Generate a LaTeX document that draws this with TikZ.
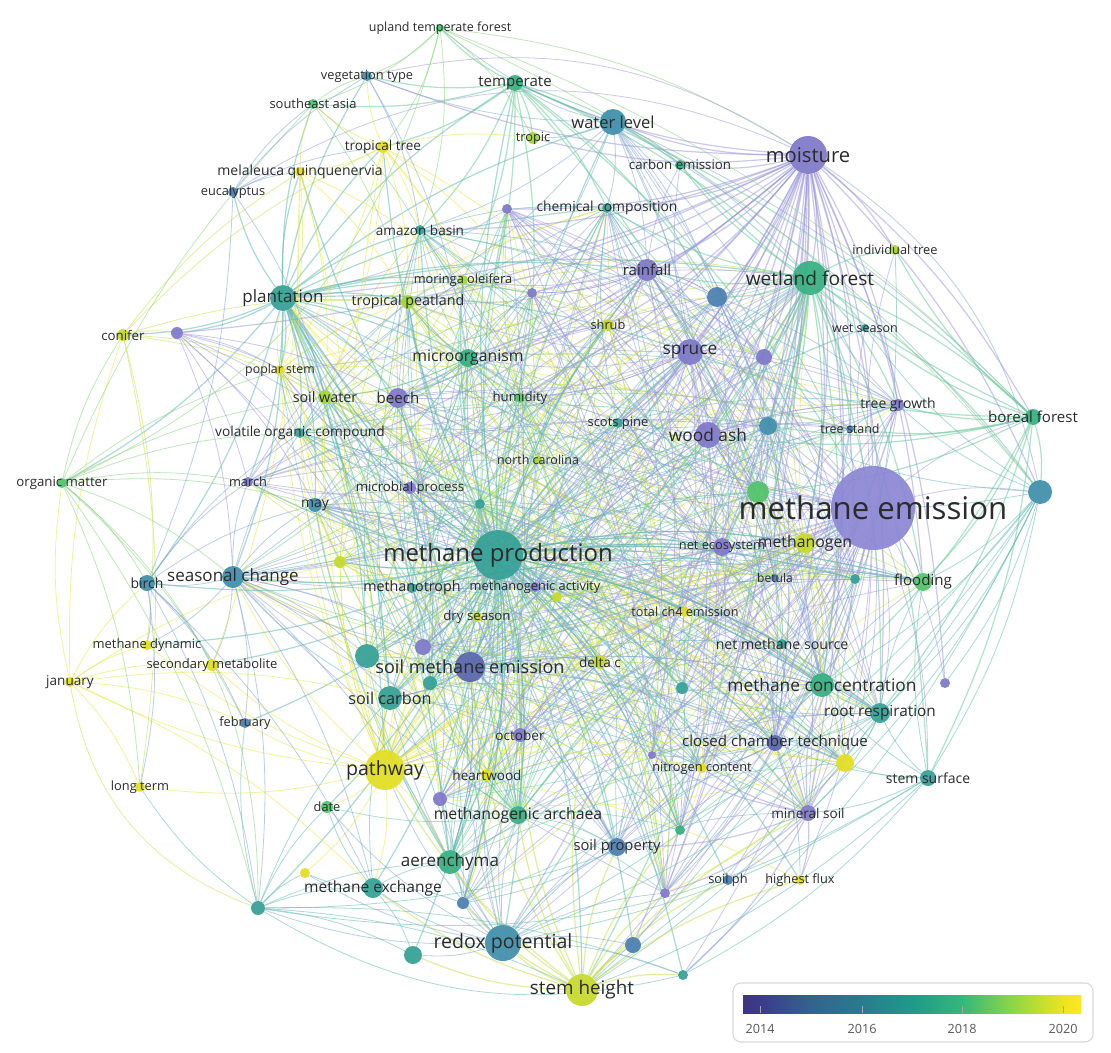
\documentclass[tikz,border=0pt]{standalone}
\usepackage{fontspec}
\setmainfont{Open Sans}
\pgfdeclarelayer{bg}
\pgfsetlayers{bg,main}
\definecolor{P}{HTML}{7F78C9}
\definecolor{PL}{HTML}{8C87D4}
\definecolor{PB}{HTML}{5A66AD}
\definecolor{B}{HTML}{4B7FB0}
\definecolor{BT}{HTML}{3F8FAB}
\definecolor{T}{HTML}{34A095}
\definecolor{TG}{HTML}{36B081}
\definecolor{G}{HTML}{52C36A}
\definecolor{LG}{HTML}{A3D53C}
\definecolor{YG}{HTML}{C6DA2A}
\definecolor{Y}{HTML}{E3DE22}
\definecolor{eP}{HTML}{9C95DD}
\definecolor{eB}{HTML}{7FA3D3}
\definecolor{eT}{HTML}{5FB8B0}
\definecolor{eTG}{HTML}{68C89A}
\definecolor{eG}{HTML}{86D27C}
\definecolor{eY}{HTML}{E6E640}
\definecolor{eYG}{HTML}{C4DF4A}
\definecolor{labc}{HTML}{2B2B2B}
\definecolor{v0}{HTML}{3E3580}
\definecolor{v1}{HTML}{3B3B8C}
\definecolor{v2}{HTML}{33638D}
\definecolor{v3}{HTML}{2A7B8E}
\definecolor{v4}{HTML}{1F9A8A}
\definecolor{v5}{HTML}{36B77A}
\definecolor{v6}{HTML}{8FD744}
\definecolor{v7}{HTML}{EEE51E}
\definecolor{v8}{HTML}{FDE725}
\pgfdeclarehorizontalshading{viridis}{100bp}{color(0bp)=(v0); color(25bp)=(v0); color(27.5bp)=(v1); color(35bp)=(v2); color(42.5bp)=(v3); color(50bp)=(v4); color(57.5bp)=(v5); color(65bp)=(v6); color(72.5bp)=(v7); color(75bp)=(v8); color(100bp)=(v8)}
\tikzset{
  dot/.style={circle, inner sep=0pt, draw=none, fill opacity=0.93},
  lab/.style={inner sep=0pt, text=labc},
  ed/.style={line width=0.6pt, draw opacity=0.52},
  edh/.style={line width=0.9pt, draw opacity=0.52},
}
\newcommand{\mknode}[7]{\node[dot,fill=#5,minimum size=#4*1.5pt] (#1) at (#2,#3) {};}
\newcommand{\mklab}[7]{\node[lab,font=\fontsize{\fpeval{#7*1.13}pt}{\fpeval{#7*1.13}pt}\selectfont] (l-#1) at (#2,#3) {#6};}
\newcommand{\allnodes}[1]{%
#1{me}{873}{508}{42}{PL}{methane emission}{20.7}%
#1{mp}{498}{555}{25}{T}{methane production}{15.9}%
#1{mo}{808}{155}{19}{P}{moisture}{13.4}%
#1{wf}{810}{278}{17}{TG}{wetland forest}{12.7}%
#1{wl}{613}{122}{13}{BT}{water level}{11}%
#1{pl}{283}{298}{13}{T}{plantation}{11.3}%
#1{pw}{385}{770}{20}{Y}{pathway}{13}%
#1{rp}{503}{943}{18}{BT}{redox potential}{13}%
#1{sh}{582}{990}{16}{YG}{stem height}{12.5}%
#1{sme}{470}{667}{15}{PB}{soil methane emission}{12}%
#1{mc}{822}{685}{12}{TG}{methane concentration}{11.5}%
#1{sc}{233}{577}{11}{BT}{seasonal change}{11.3}%
#1{sp}{690}{352}{13}{P}{spruce}{11.5}%
#1{wa}{708}{435}{13}{P}{wood ash}{11.5}%
#1{ae}{450}{862}{12}{TG}{aerenchyma}{11.3}%
#1{scb}{390}{698}{12}{T}{soil carbon}{10.8}%
#1{mic}{468}{358}{9}{TG}{microorganism}{10.5}%
#1{ma}{518}{815}{9}{TG}{methanogenic archaea}{10.5}%
#1{mex}{373}{888}{10}{T}{methane exchange}{10.3}%
#1{rr}{880}{713}{10}{T}{root respiration}{10.2}%
#1{rf}{647}{270}{11}{P}{rainfall}{10}%
#1{bf}{1033}{417}{8}{TG}{boreal forest}{10}%
#1{tp}{408}{302}{7}{LG}{tropical peatland}{9.5}%
#1{spp}{617}{847}{9}{B}{soil property}{9.8}%
#1{cct}{775}{743}{8}{PB}{closed chamber technique}{10}%
#1{fl}{923}{582}{9}{G}{flooding}{10}%
#1{be}{398}{398}{10}{P}{beech}{10}%
#1{te}{515}{83}{8}{TG}{temperate}{10}%
#1{mn}{805}{543}{10}{YG}{methanogen}{10.5}%
#1{ne}{722}{547}{9}{P}{net ecosystem}{8.5}%
#1{ms}{808}{813}{8}{P}{mineral soil}{9}%
#1{ss}{928}{778}{8}{T}{stem surface}{9.3}%
#1{oc}{520}{735}{7}{P}{october}{9}%
#1{hw}{487}{775}{6}{Y}{heartwood}{9}%
#1{ut}{440}{28}{4}{G}{upland temperate forest}{8.3}%
#1{vt}{367}{76}{5}{BT}{vegetation type}{8.5}%
#1{sea}{313}{104}{5}{G}{southeast asia}{8.6}%
#1{tt}{383}{147}{6}{Y}{tropical tree}{9}%
#1{mq}{300}{172}{5}{Y}{melaleuca quinquenervia}{9.3}%
#1{eu}{233}{192}{5}{B}{eucalyptus}{8.5}%
#1{tr}{533}{138}{6}{LG}{tropic}{8.5}%
#1{ce}{680}{165}{5}{TG}{carbon emission}{8.8}%
#1{chc}{607}{208}{5}{T}{chemical composition}{9.2}%
#1{ab}{420}{230}{5}{T}{amazon basin}{9}%
#1{mol}{463}{280}{5}{LG}{moringa oleifera}{8.5}%
#1{shr}{608}{325}{6}{YG}{shrub}{8.5}%
#1{it}{895}{250}{5}{LG}{individual tree}{8.5}%
#1{ws}{865}{328}{4}{T}{wet season}{8.3}%
#1{co}{123}{335}{6}{YG}{conifer}{8.8}%
#1{ps}{280}{370}{5}{Y}{poplar stem}{8.2}%
#1{sw}{325}{397}{7}{LG}{soil water}{9.5}%
#1{voc}{300}{433}{5}{T}{volatile organic compound}{9.1}%
#1{hu}{520}{398}{5}{G}{humidity}{8.8}%
#1{spn}{618}{423}{5}{T}{scots pine}{8.6}%
#1{nc}{538}{460}{4}{LG}{north carolina}{8.3}%
#1{om}{62}{483}{5}{G}{organic matter}{8.8}%
#1{mar}{248}{482}{5}{P}{march}{8.5}%
#1{may}{315}{505}{7}{BT}{may}{9.3}%
#1{mip}{410}{488}{6}{P}{microbial process}{8.8}%
#1{tg}{898}{405}{6}{P}{tree growth}{9.3}%
#1{ts}{850}{429}{4}{B}{tree stand}{8.3}%
#1{bi}{147}{583}{8}{BT}{birch}{9.3}%
#1{mt}{412}{588}{5}{T}{methanotroph}{9.5}%
#1{mga}{535}{587}{5}{P}{methanogenic activity}{8.5}%
#1{ds}{477}{617}{5}{YG}{dry season}{8.8}%
#1{tce}{685}{612}{5}{Y}{total ch4 emission}{8.4}%
#1{bet}{775}{578}{4}{B}{betula}{8}%
#1{nms}{782}{644}{5}{T}{net methane source}{9.4}%
#1{dc}{600}{662}{7}{YG}{delta c}{9}%
#1{md}{147}{645}{5}{Y}{methane dynamic}{8.6}%
#1{sm}{212}{665}{6}{Y}{secondary metabolite}{8.6}%
#1{ja}{70}{682}{5}{Y}{january}{9}%
#1{feb}{245}{723}{5}{B}{february}{8.5}%
#1{lt}{140}{787}{5}{Y}{long term}{8.5}%
#1{da}{327}{807}{6}{G}{date}{8.5}%
#1{nic}{702}{768}{5}{Y}{nitrogen content}{8.5}%
#1{sph}{728}{880}{5}{B}{soil ph}{8.5}%
#1{hf}{800}{880}{5}{Y}{highest flux}{8.5}%
}
\newcommand{\mkdot}[5]{\node[dot,fill=#5,minimum size=#4*1.5pt] (#1) at (#2,#3) {};}
\def\centrallist{mp/eT,sme/eB,scb/eT,pw/eY,ae/eTG,ma/eTG,spp/eB,oc/eP,hw/eY,dc/eYG,tce/eY,ne/eP,mn/eYG,wa/eP,sp/eP,rf/eP,mic/eTG,be/eP,hu/eG,spn/eT,nc/eYG,mip/eP,mt/eT,mga/eP,ds/eYG,u14/eT,u15/eYG,u16/eP,u17/eT,u18/eT,u19/eYG,sw/eYG,voc/eT,may/eB,mar/eP,ps/eY,tp/eYG,mol/eYG,shr/eYG,ab/eT,chc/eT,u2/eP,u3/eP,u4/eB,u5/eP,u6/eB,u7/eG,ts/eB,tg/eP,bet/eB,u9/eT,nms/eT,mc/eTG,cct/eB,nic/eY,u12/eP,u13/eT,u11/eY,ms/eP,u22/eP,u23/eTG,u24/eB,u25/eP,sc/eB,pl/eT,me/eP,wf/eTG,rr/eT,fl/eG}
\begin{document}
\begin{tikzpicture}[x=0.75pt,y=-0.75pt]
\useasboundingbox (0,0) rectangle (1111,1053);
\allnodes{\mknode}
\mkdot{u1}{177}{333}{6}{P}
\mkdot{u2}{507}{209}{5}{P}
\mkdot{u3}{532}{293}{5}{P}
\mkdot{u4}{717}{297}{10}{B}
\mkdot{u5}{764}{357}{8}{P}
\mkdot{u6}{768}{426}{9}{BT}
\mkdot{u7}{758}{492}{11}{G}
\mkdot{u8}{1040}{492}{12}{BT}
\mkdot{u9}{855}{579}{5}{T}
\mkdot{u10}{945}{683}{5}{P}
\mkdot{u11}{845}{763}{9}{Y}
\mkdot{u12}{652}{755}{4}{P}
\mkdot{u13}{682}{688}{6}{T}
\mkdot{u14}{480}{504}{5}{T}
\mkdot{u15}{557}{597}{5}{YG}
\mkdot{u16}{423}{647}{8}{P}
\mkdot{u17}{430}{683}{7}{T}
\mkdot{u18}{367}{656}{12}{T}
\mkdot{u19}{340}{562}{6}{YG}
\mkdot{u20}{305}{873}{5}{Y}
\mkdot{u21}{258}{908}{7}{T}
\mkdot{u22}{440}{799}{7}{P}
\mkdot{u23}{680}{830}{5}{TG}
\mkdot{u24}{463}{903}{6}{B}
\mkdot{u25}{665}{893}{5}{P}
\mkdot{u26}{413}{955}{9}{T}
\mkdot{u27}{633}{945}{8}{B}
\mkdot{u28}{683}{975}{5}{T}
\begin{pgfonlayer}{bg}
\fill[white] (0,0) rectangle (1111,1053);
\pgfmathsetseed{12}
\foreach \a/\ca [count=\i] in \centrallist {
  \foreach \b/\cb [count=\j] in \centrallist {
    \ifnum\j>\i
      \pgfmathsetmacro{\rv}{rnd}
      \ifdim\rv pt<0.27pt \draw[ed,\ca] (\a) to[bend left=10] (\b); \fi
    \fi
  }
}
\foreach \q in {wl,ce,chc,u2,rf,u4,sp,u5,wa,me,wf,tg,ts,it,u8,bf,mc,rr,ms,cct,u10,fl,ne,mp,sme,u3,pl,be,mip,u16,oc,u22,spp,u27,rp,u25,mar,u1,ab,tr,te,vt,mn,u6,u7,dc,shr,spn,mic,tp,hu}
  \draw[edh,eP] (mo) to[bend left=10] (\q);
\foreach \q in {mp,wa,sp,rf,u4,u5,u6,u7,mn,ne,bet,u9,fl,nms,mc,rr,cct,u11,ss,ms,u10,hf,sph,spp,u8,bf,tg,ts,it,ws,sme,pw,rp,sh,ae,ma,scb,pl,mic,be,may,sc,tce,dc,u13,u27,u28,u23,oc,u16,mt,ds,nic,u12,shr,spn,hu,nc}
  \draw[ed,eP] (me) to[bend left=10] (\q);
\foreach \q in {mic,be,hu,spn,nc,mip,u14,mt,mga,ds,u15,u16,sme,u17,u18,scb,pw,hw,oc,ma,ae,rp,sh,spp,dc,tce,ne,mn,u7,wa,sp,rf,pl,tp,mol,sw,voc,may,mar,sc,bi,u19,md,sm,feb,da,mex,u21,u26,u24,u22,u13,u12,nic,mc,nms,bet,cct,u11,ms,sph,hf,u25,u27,u28,u23,rr,fl,u9,ws,wf,wl,te,ab,chc,u2,u3,tt,mq,shr}
  \draw[edh,eT] (mp) to[bend left=10] (\q);
\foreach \q in {vt,sea,tt,mq,eu,tp,ab,mol,co,u1,ps,sw,voc,mic,be,may,mar,sc,bi,om,wl,te,u3,sp,rf,wf,chc,hu,mt,sme,scb,pw,ae,rp,u18}
  \draw[edh,eT] (pl) to[bend left=10] (\q);
\foreach \q in {te,tr,ce,chc,ut,vt,wf,rf,u4,sp,me,ab,tp,mic,wa,bf,u8,mc,rr,u6}
  \draw[ed,eB] (wl) to[bend left=10] (\q);
\foreach \q in {ut,tr,ce,chc,vt,sea,tt,ab,wf,u4,me,mic,hu,bf,u7,mol}
  \draw[edh,eTG] (te) to[bend left=10] (\q);
\foreach \q in {vt,sea,mo,tr,tt,u8,bf,ab}
  \draw[ed,eG] (ut) to[bend left=12] (\q);
\foreach \q in {it,ws,bf,tg,ts,u8,u5,u4,sp,rf,wa,u6,u7,mc,rr,ss,fl,mn,ne,chc,ce,sme,ma,pw,rp,sh}
  \draw[edh,eTG] (wf) to[bend left=10] (\q);
\foreach \q in {u8,ws,tg,ts,fl,mc,rr,ss,u7,it,wa,u6,sp,ce}
  \draw[edh,eTG] (bf) to[bend left=10] (\q);
\foreach \q in {fl,mc,rr,ss,ms,u10,ws,tg,u6,u7,sh,u28,rp}
  \draw[ed,eT] (u8) to[bend left=10] (\q);
\foreach \q in {rr,u11,cct,ms,mc,fl,sh,rp,u28}
  \draw[ed,eT] (ss) to[bend left=10] (\q);
\foreach \q in {mc,cct,u11,ms,nms,fl,u13,sh,rp}
  \draw[ed,eT] (rr) to[bend left=10] (\q);
\foreach \q in {rp,u27,u28,spp,ma,pw,ae,sph,hf,ms,u25,u26,u24,mex,dc,hw,oc,u23}
  \draw[edh,eYG] (sh) to[bend left=10] (\q);
\foreach \q in {u26,mex,u21,u24,ae,ma,pw,scb,sme,u22,spp,u27,u28,u25,oc,hw,da,u20,mc,cct}
  \draw[ed,eB] (rp) to[bend left=10] (\q);
\foreach \q in {hw,oc,da,u20,mex,ae,scb,sm,md,ja,feb,lt,sme,dc,tce,mn,u15,u19,sw,ps,tt,mq,tp,mol,shr,u11,nic,hf,ds,u17,u18,ma}
  \draw[ed,eY] (pw) to[bend left=10] (\q);
\foreach \q in {md,sm,lt,feb,om,bi,co,u19,mex,scb}
  \draw[ed,eY] (ja) to[bend left=10] (\q);
\foreach \q in {co,bi,sc,lt,mar,may,voc,sw,ps,feb,u21,sea}
  \draw[ed,eG] (om) to[bend left=10] (\q);
\foreach \q in {u1,ps,sw,tp,mq,lt,md,tt}
  \draw[ed,eYG] (co) to[bend left=10] (\q);
\foreach \q in {sw,ps,voc,mar,may,be,mip,sc,u16}
  \draw[ed,eP] (u1) to[bend left=10] (\q);
\foreach \q in {bi,may,mar,feb,sm,md,scb,u18,u16,sme,voc,ae,mex,u21}
  \draw[ed,eB] (sc) to[bend left=10] (\q);
\foreach \q in {may,mar,feb,sm,md,u21,mex,voc,lt}
  \draw[ed,eB] (bi) to[bend left=10] (\q);
\foreach \q in {mq,sea,vt,tt,sw,bi}
  \draw[ed,eB] (eu) to[bend left=10] (\q);
\foreach \q in {sw,ps,tp,mol,shr,ab,u3,sea,vt,mq,tr,hu}
  \draw[ed,eY] (tt) to[bend left=10] (\q);
\foreach \q in {sw,ps,tp,mol,sea,u19,sm}
  \draw[ed,eY] (mq) to[bend left=10] (\q);
\foreach \q in {vt,ab,tp}
  \draw[ed,eG] (sea) to[bend left=10] (\q);
\foreach \q in {ab,mic}
  \draw[ed,eB] (vt) to[bend left=10] (\q);
\foreach \q in {mex,ae,u26,da,u20,scb,sh,u28,feb,lt}
  \draw[ed,eT] (u21) to[bend left=10] (\q);
\foreach \q in {ae,u26,da,u20,scb,u24}
  \draw[ed,eT] (mex) to[bend left=10] (\q);
\foreach \q in {u16,u17,u18,scb,dc,mt,ds,ma,ae,spp,oc,mc,ne,wa,sp,mn}
  \draw[ed,eB] (sme) to[bend left=10] (\q);
\foreach \q in {cct,hf,sph,u11,spp,u25,nic,u12,mc,u28}
  \draw[edh,eP] (ms) to[bend left=10] (\q);
\foreach \q in {u11,nic,u12,mc,nms,spp,hf}
  \draw[ed,eB] (cct) to[bend left=10] (\q);
\foreach \q in {u7,ne,bet,tce,dc,u15,mc,wa,nms,u11}
  \draw[ed,eYG] (mn) to[bend left=10] (\q);
\foreach \q in {rf,u4,u5,wa,u6,shr,spn,hu,be,mic,chc,ce,tg,ts}
  \draw[ed,eP] (sp) to[bend left=10] (\q);
\foreach \q in {u6,u5,spn,ts,tg,u7,ne,bet}
  \draw[ed,eP] (wa) to[bend left=10] (\q);
\foreach \q in {u4,shr,u3,u2,chc,ce,mic,tp,mol}
  \draw[ed,eP] (rf) to[bend left=10] (\q);
\foreach \q in {be,mip,sw,voc,hu,tp,mol,ab,may,mar,u14,nc}
  \draw[ed,eTG] (mic) to[bend left=10] (\q);
\foreach \q in {ae,u22,oc,hw,spp,u23,da,u24,scb,dc}
  \draw[ed,eTG] (ma) to[bend left=10] (\q);
\foreach \q in {u17,u18,scb,mt,ds,u15,mga,nc,spn,tce,dc,u13,hw,oc}
  \draw[ed,eG] (u14) to[bend left=10] (\q);
\draw[ed,eP] (eu) to[bend left=28] (mo);
\draw[ed,eP] (vt) to[bend left=22] (mo);
\draw[ed,eB] (mo) to[bend left=22] (u8);
\draw[ed,eT] (it) to[bend left=25] (sh);
\draw[ed,eT] (u8) to[bend left=28] (u21);
\draw[ed,eG] (om) to[bend left=25] (u21);
\draw[ed,eG] (om) to[bend right=25] (ut);
\draw[ed,eT] (u21) to[bend right=22] (u28);
\draw[ed,eT] (ss) to[bend left=20] (u21);
\draw[ed,eYG] (ja) to[bend right=30] (u21);
\end{pgfonlayer}
\allnodes{\mklab}
% legend
\draw[rounded corners=6pt, draw=black!15, line width=0.8pt, fill=white] (733,983) rectangle (1093,1042);
\shade[shading=viridis] (743,995) rectangle (1081,1013);
\foreach \xx/\yr in {760/2014,862/2016,962/2018,1063/2020}{
  \draw[black!35, line width=0.6pt] (\xx,1006) -- (\xx,1013);
  \node[inner sep=0pt, text=black!65, font=\fontsize{9.5pt}{9.5pt}\selectfont] (yr\yr) at (\xx,1029) {\yr};
}
\end{tikzpicture}
\end{document}
